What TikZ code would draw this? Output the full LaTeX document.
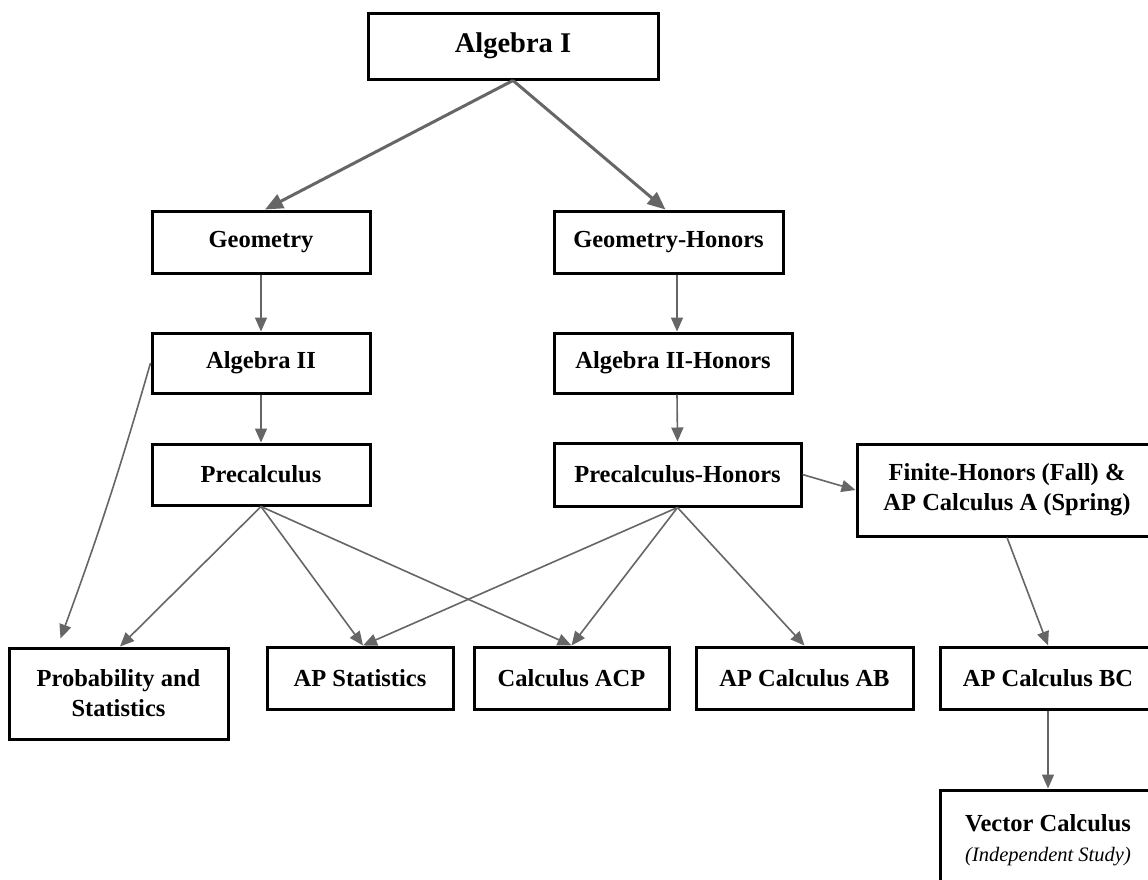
\documentclass[tikz,border=0pt]{standalone}
\usepackage{fontspec}
\setmainfont{Liberation Serif}
\usetikzlibrary{arrows.meta}
\definecolor{arrowgray}{RGB}{102,102,102}
\begin{document}
\begin{tikzpicture}[x=1pt,y=-1pt,
  box/.style={draw=black,line width=3pt,fill=white,inner sep=0pt,align=center,
    font=\fontsize{24.5}{30}\selectfont\bfseries},
  conn/.style={draw=arrowgray,line width=1.6pt,-{Triangle[length=14pt,width=12pt]}},
  bigconn/.style={draw=arrowgray,line width=3pt,-{Triangle[length=18pt,width=15pt]}}]
\useasboundingbox (0,0) rectangle (1148,879);
\clip (0,0) rectangle (1148,879);
\fill[white] (0,0) rectangle (1148,879);

\node[box,minimum width=290pt,minimum height=66pt] (alg1) at (513,46) {\fontsize{28.5}{34}\selectfont Algebra I};
\node[box,minimum width=218pt,minimum height=62pt] (geo) at (261,242) {Geometry};
\node[box,minimum width=229pt,minimum height=62pt] (geoh) at (668.5,242) {Geometry-Honors};
\node[box,minimum width=218pt,minimum height=60pt] (alg2) at (261,363) {Algebra II};
\node[box,minimum width=238pt,minimum height=60pt] (alg2h) at (673,363) {Algebra II-Honors};
\node[box,minimum width=218pt,minimum height=61pt] (pre) at (261,474.5) {Precalculus};
\node[box,minimum width=247pt,minimum height=63pt] (preh) at (677.5,474.5) {Precalculus-Honors};
\node[box,minimum width=300pt,minimum height=92pt] (fin) at (1007,490) {Finite-Honors (Fall) \&\\AP Calculus A (Spring)};
\node[box,minimum width=219pt,minimum height=91pt] (prob) at (118.5,693.5) {Probability and\\Statistics};
\node[box,minimum width=186pt,minimum height=62pt] (aps) at (360,678) {AP Statistics};
\node[box,minimum width=195pt,minimum height=62pt] (acp) at (571.5,678) {Calculus ACP};
\node[box,minimum width=217pt,minimum height=62pt] (ab) at (804.5,678) {AP Calculus AB};
\node[box,minimum width=216pt,minimum height=62pt] (bc) at (1048,678) {AP Calculus BC};
\node[box,minimum width=216pt,minimum height=100pt] (vec) at (1048,840) {Vector Calculus\\{\mdseries\itshape\fontsize{20.5}{30}\selectfont (Independent Study)}};

\coordinate (probtip) at ([xshift=-58pt,yshift=8pt]prob.north);

\draw[bigconn] (alg1.south) -- ([xshift=4pt]geo.north);
\draw[bigconn] (alg1.south) -- ([xshift=-3pt]geoh.north);
\draw[conn] (geo.south) -- (alg2.north);
\draw[conn] (alg2.south) -- (pre.north);
\draw[conn] ([xshift=8.5pt]geoh.south) -- ([xshift=4pt]alg2h.north);
\draw[conn] ([xshift=4pt]alg2h.south) -- (preh.north);
\draw[conn] (alg2.west) to[bend left=2] (probtip);
\draw[conn] (pre.south) -- ([xshift=1.5pt]prob.north);
\draw[conn] (pre.south) -- ([xshift=3pt]aps.north);
\draw[conn] (pre.south) -- (acp.north);
\draw[conn] (preh.south) -- ([xshift=3pt]aps.north);
\draw[conn] (preh.south) -- (acp.north);
\draw[conn] (preh.south) -- (ab.north);
\draw[conn] (preh.east) -- (fin.west);
\draw[conn] (fin.south) -- (bc.north);
\draw[conn] (bc.south) -- (vec.north);
\end{tikzpicture}
\end{document}
